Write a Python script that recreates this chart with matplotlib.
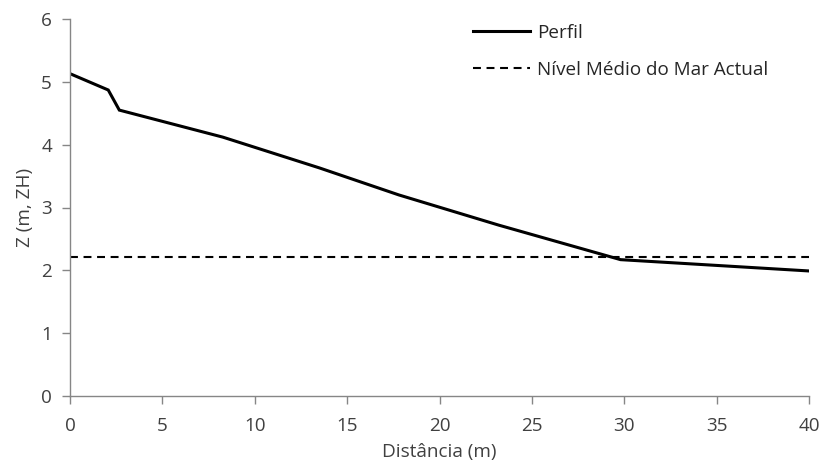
import matplotlib
matplotlib.use("Agg")
import matplotlib.pyplot as plt

plt.rcParams['font.family'] = ['Open Sans', 'DejaVu Sans']

# Data
dist = [0, 2.07, 2.67, 8.27, 13.5, 17.8, 23.2, 29.8, 40]
perfil = [5.13, 4.87, 4.55, 4.12, 3.63, 3.20, 2.72, 2.17, 1.99]
nmm_x = [0, 40]
nmm_y = [2.21, 2.21]
xticks = [0, 5, 10, 15, 20, 25, 30, 35, 40]
yticks = [0, 1, 2, 3, 4, 5, 6]

FS = 13.6

fig = plt.figure(figsize=(8.24, 4.63), dpi=100)
ax = fig.add_axes([70/824, 1-396/463, (809-70)/824, (396-19)/463])

ax.plot(dist, perfil, color='black', lw=2.2, label='Perfil', solid_joinstyle='miter')
ax.plot(nmm_x, nmm_y, color='black', lw=1.5, ls=(0, (3.8, 2.7)), label='Nível Médio do Mar Actual')

ax.set_xlim(0, 40)
ax.set_ylim(0, 6)
ax.set_xticks(xticks)
ax.set_yticks(yticks)

grey = '#868686'
for s in ['top', 'right']:
    ax.spines[s].set_visible(False)
for s in ['left', 'bottom']:
    ax.spines[s].set_color(grey)
    ax.spines[s].set_linewidth(1.0)
ax.tick_params(axis='both', colors=grey, labelcolor='#404040', labelsize=FS, length=6, width=1.0)
ax.tick_params(axis='x', pad=9)
ax.tick_params(axis='y', pad=7)

ax.set_xlabel('Distância (m)', fontsize=FS, color='#404040', labelpad=6)
ax.set_ylabel('Z (m, ZH)', fontsize=FS, color='#404040', labelpad=5)

leg = ax.legend(loc='upper left', bbox_to_anchor=(473/824, 1-24/463), bbox_transform=fig.transFigure,
                frameon=False, fontsize=FS, borderpad=0, borderaxespad=0,
                handlelength=3.0, handletextpad=0.4, labelspacing=1.0)
for t in leg.get_texts():
    t.set_color('#262626')

fig.savefig('out.png', dpi=100)
